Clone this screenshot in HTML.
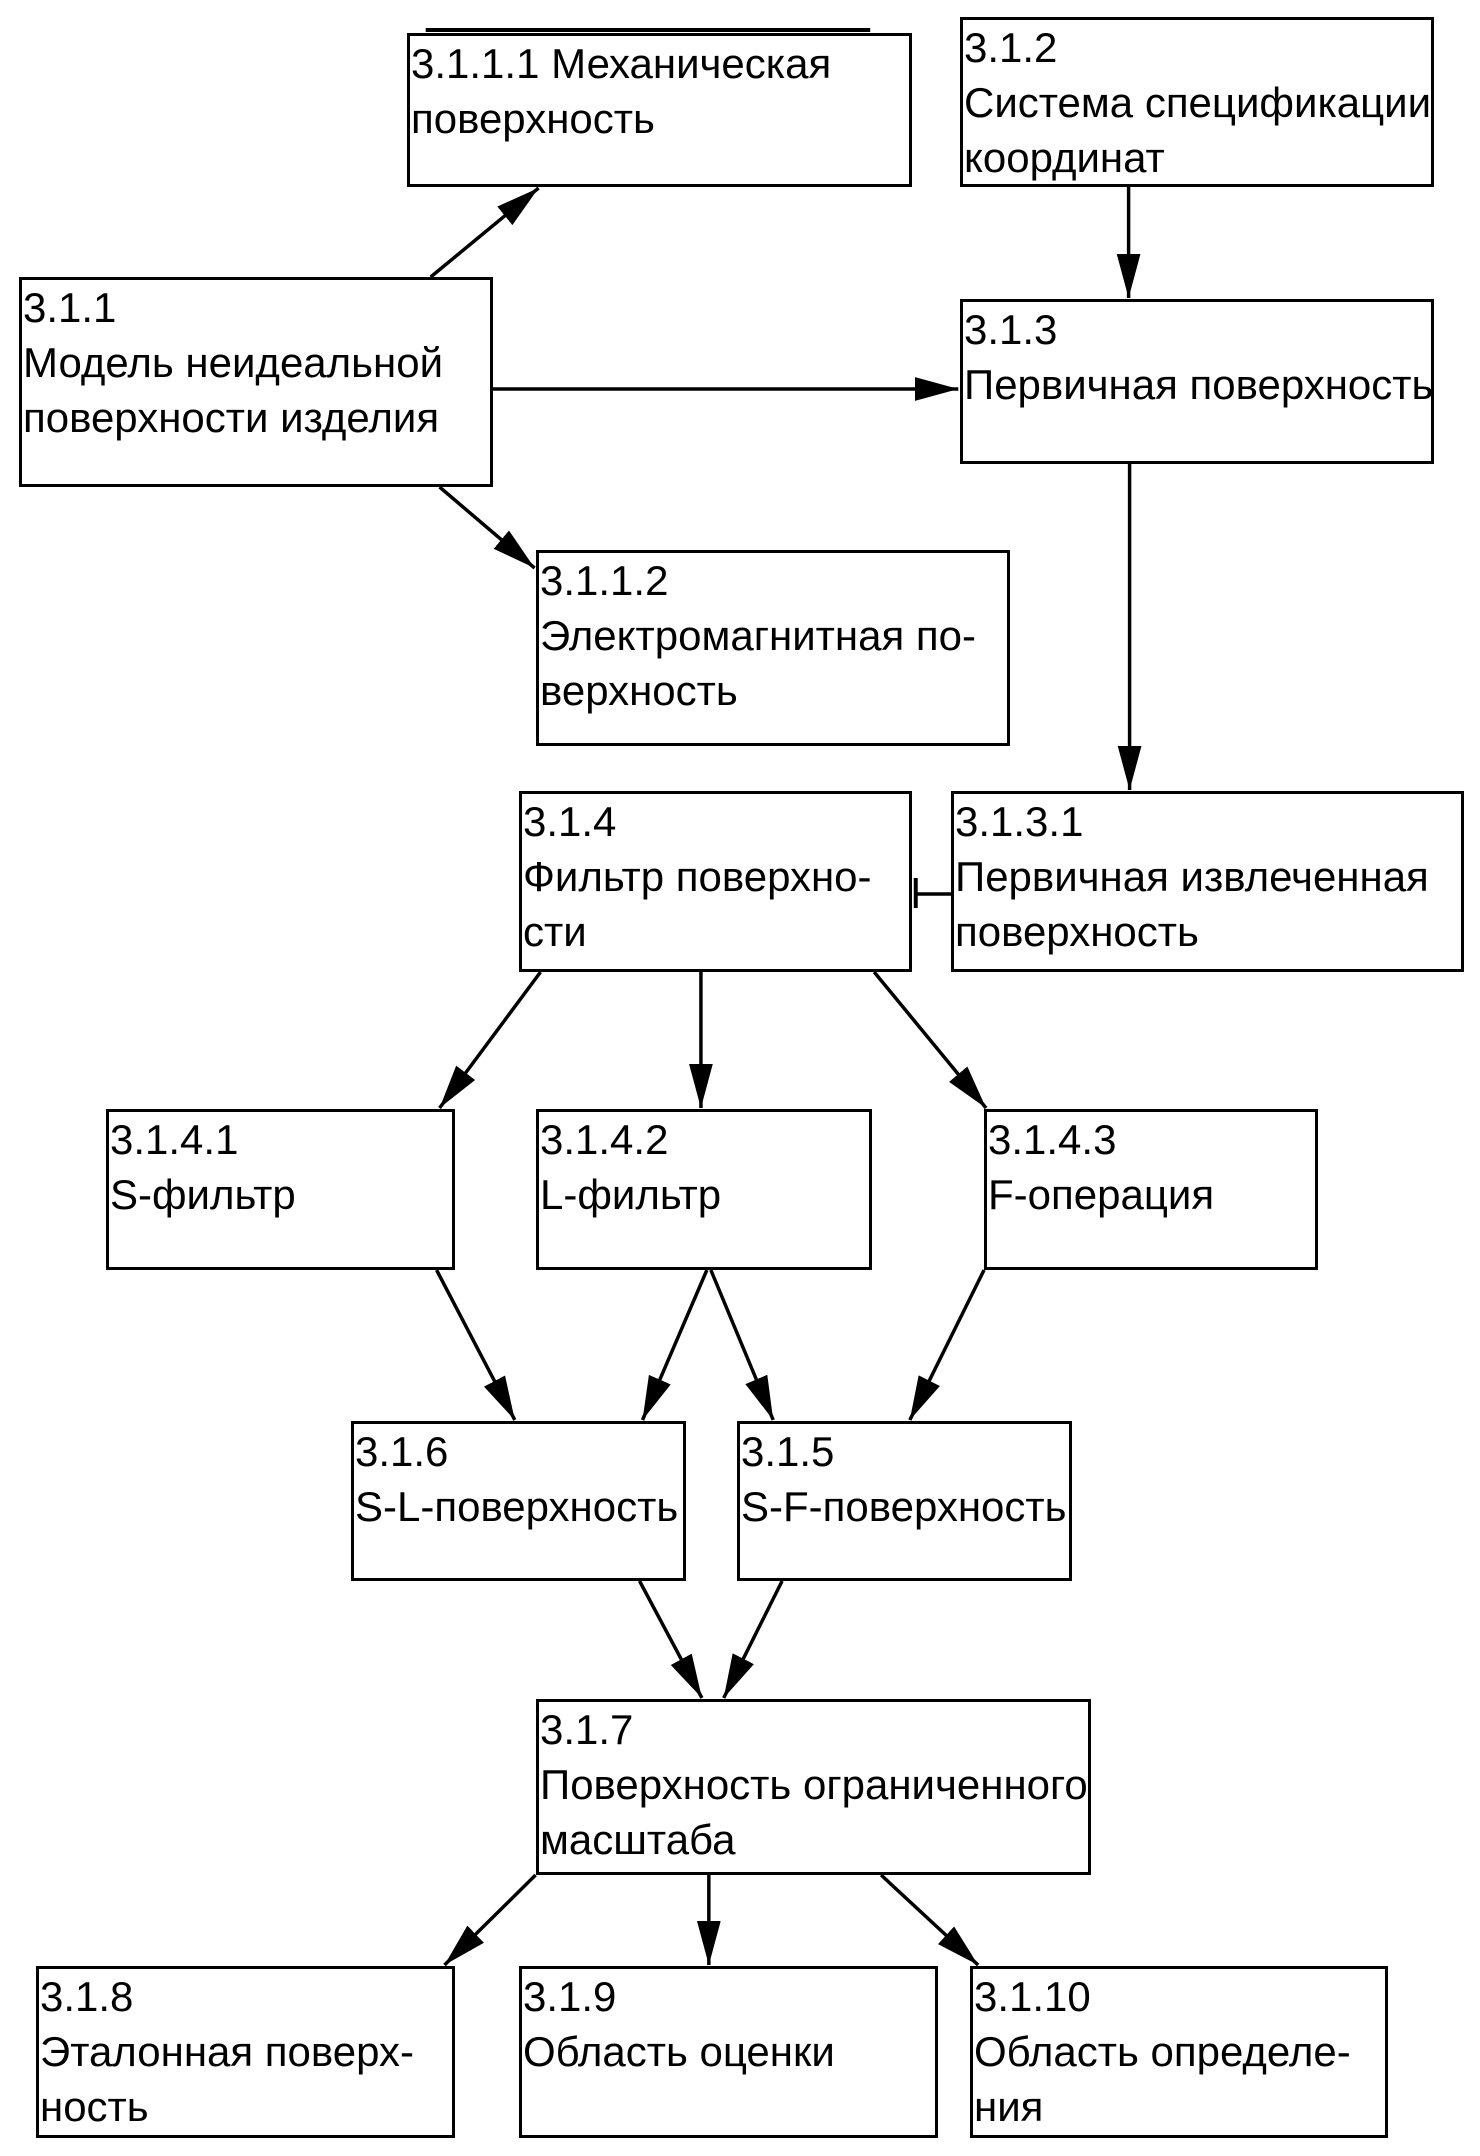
<!DOCTYPE html>
<html><head><meta charset="utf-8"><style>
html,body{margin:0;padding:0;background:#fff;}
body{width:1480px;height:2156px;position:relative;overflow:hidden;font-family:"Liberation Sans","DejaVu Sans",sans-serif;}
.b{position:absolute;border:3px solid #000;box-sizing:border-box;font-size:42px;line-height:55px;padding:0 0 0 1px;color:#000;white-space:nowrap;background:#fff;}
svg{position:absolute;left:0;top:0;}
</style></head><body>
<svg width="1480" height="2156" viewBox="0 0 1480 2156">
<defs><marker id="a" markerUnits="userSpaceOnUse" markerWidth="46" markerHeight="26" refX="44" refY="12" orient="auto"><path d="M0,0 L44,12 L0,24 z" fill="#000"/></marker></defs>
<g transform="scale(0.99,1)">
<g stroke="#000" stroke-width="3.5" fill="none" marker-end="url(#a)">
<line x1="435" y1="277" x2="544" y2="188"/>
<line x1="1140" y1="186" x2="1140" y2="298"/>
<line x1="497" y1="389" x2="968" y2="389"/>
<line x1="444" y1="487" x2="540" y2="568"/>
<line x1="1141" y1="463" x2="1141" y2="790"/>
<line x1="546" y1="972" x2="444" y2="1108"/>
<line x1="708" y1="972" x2="708" y2="1108"/>
<line x1="883" y1="972" x2="996" y2="1108"/>
<line x1="441" y1="1270" x2="520" y2="1420"/>
<line x1="714" y1="1270" x2="649" y2="1420"/>
<line x1="718" y1="1270" x2="781" y2="1420"/>
<line x1="994" y1="1270" x2="919" y2="1420"/>
<line x1="646" y1="1581" x2="709" y2="1698"/>
<line x1="790" y1="1581" x2="731" y2="1698"/>
<line x1="541" y1="1875" x2="449" y2="1965"/>
<line x1="716" y1="1875" x2="716" y2="1965"/>
<line x1="890" y1="1875" x2="988" y2="1965"/>
</g>
<line x1="961" y1="894" x2="925" y2="894" stroke="#000" stroke-width="3.5"/>
<line x1="925" y1="878" x2="925" y2="908" stroke="#000" stroke-width="4"/>
<line x1="430" y1="30" x2="879" y2="30" stroke="#000" stroke-width="4"/>
</g>
</svg>
<div class="b" style="left:407px;top:33px;width:505px;height:154px;">3.1.1.1 Механическая<br>поверхность</div>
<div class="b" style="left:960px;top:17px;width:474px;height:170px;">3.1.2<br>Система спецификации<br>координат</div>
<div class="b" style="left:19px;top:277px;width:474px;height:210px;">3.1.1<br>Модель неидеальной<br>поверхности изделия</div>
<div class="b" style="left:960px;top:299px;width:474px;height:165px;">3.1.3<br>Первичная поверхность</div>
<div class="b" style="left:536px;top:550px;width:474px;height:196px;">3.1.1.2<br>Электромагнитная по-<br>верхность</div>
<div class="b" style="left:519px;top:791px;width:393px;height:181px;">3.1.4<br>Фильтр поверхно-<br>сти</div>
<div class="b" style="left:951px;top:791px;width:513px;height:181px;">3.1.3.1<br>Первичная извлеченная<br>поверхность</div>
<div class="b" style="left:106px;top:1109px;width:349px;height:161px;">3.1.4.1<br>S-фильтр</div>
<div class="b" style="left:536px;top:1109px;width:336px;height:161px;">3.1.4.2<br>L-фильтр</div>
<div class="b" style="left:984px;top:1109px;width:334px;height:161px;">3.1.4.3<br>F-операция</div>
<div class="b" style="left:351px;top:1421px;width:335px;height:160px;">3.1.6<br>S-L-поверхность</div>
<div class="b" style="left:737px;top:1421px;width:335px;height:160px;">3.1.5<br>S-F-поверхность</div>
<div class="b" style="left:536px;top:1699px;width:555px;height:176px;">3.1.7<br>Поверхность ограниченного<br>масштаба</div>
<div class="b" style="left:36px;top:1966px;width:419px;height:172px;">3.1.8<br>Эталонная поверх-<br>ность</div>
<div class="b" style="left:519px;top:1966px;width:419px;height:172px;">3.1.9<br>Область оценки</div>
<div class="b" style="left:970px;top:1966px;width:418px;height:172px;">3.1.10<br>Область определе-<br>ния</div>
</body></html>
